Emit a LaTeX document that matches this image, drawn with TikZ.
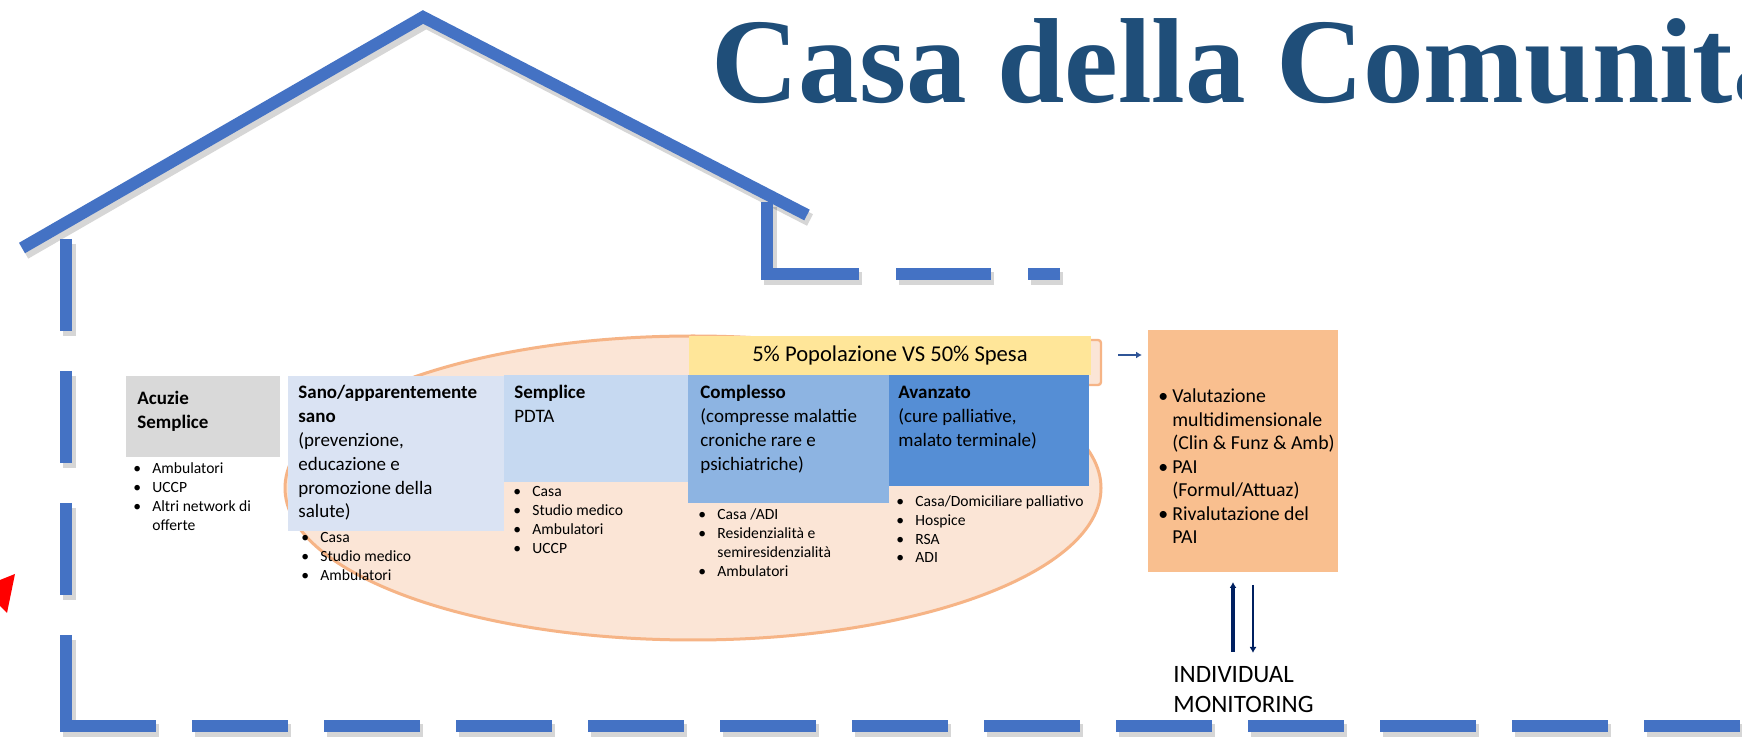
\documentclass[tikz,border=0pt]{standalone}
\usepackage{fontspec}
\setmainfont{Carlito}
\newfontfamily\titlefont{Liberation Serif}
\usetikzlibrary{arrows.meta}
\definecolor{housecol}{HTML}{4472C4}
\definecolor{titlecol}{HTML}{1F4E79}
\definecolor{ellipsefill}{HTML}{FBE5D6}
\definecolor{ellipseline}{HTML}{F6B486}
\definecolor{acuziecol}{HTML}{D9D9D9}
\definecolor{sanocol}{HTML}{DAE3F3}
\definecolor{semplicecol}{HTML}{C6D9F1}
\definecolor{complessocol}{HTML}{8DB4E2}
\definecolor{avanzatocol}{HTML}{558ED5}
\definecolor{spesacol}{HTML}{FFE699}
\definecolor{paicol}{HTML}{F9BF8F}
\definecolor{linkcol}{HTML}{2F5597}
\definecolor{navycol}{HTML}{002060}
\newcommand{\txtlines}[1]{\begin{tabular}[t]{@{}l@{}}#1\end{tabular}}
\newcommand{\bull}[1][9.5pt]{\makebox[#1][l]{\textbullet}}
\newcommand{\bindent}[1][9.5pt]{\hspace*{#1}}
\tikzset{
  house/.style={draw=housecol, line width=6pt},
  houseshadow/.style={draw=black, opacity=.16, line width=6.5pt, shift={(3,5)}},
  box/.style={anchor=north west, inner sep=0pt, outer sep=0pt},
  boxtext/.style={anchor=base west, inner sep=0pt, font=\fontsize{9.5}{11.9}\selectfont},
  listtext/.style={anchor=base west, inner sep=0pt, font=\fontsize{7.8}{9.5}\selectfont},
}
\begin{document}
\begin{tikzpicture}[x=0.5pt, y=-0.5pt, >={Latex[length=3pt,width=3.5pt]}]
  \fill[white] (0,0) rectangle (1742,742);
  \useasboundingbox (0,0) rectangle (1742,742);

  \foreach \s in {houseshadow, house}{
    \draw[\s, line join=miter] (22,248) -- (423,17) -- (807,215);
    \draw[\s, line join=miter] (767,202) -- (767,274) -- (859,274);
    \draw[\s] (896,274) -- (991,274) (1028,274) -- (1060,274);
    \draw[\s, dash pattern=on 46pt off 20pt] (66,239) -- (66,732);
    \draw[\s, dash pattern=on 48pt off 18pt] (60,726) -- (1742,726);
  }

  \draw[draw=ellipseline, fill=ellipsefill, line width=1.5pt] (693,488) ellipse [x radius=204pt, y radius=76pt];
  \node[box, draw=ellipseline, fill=ellipsefill, line width=1.2pt, rounded corners=1.5pt,
        minimum width=200.5pt, minimum height=22.5pt] (spesaback) at (700,340) {};
  \node[box, fill=spesacol, minimum width=201pt, minimum height=19.5pt,
        font=\fontsize{11.3}{13}\selectfont] (spesa) at (689,336) {5\% Popolazione VS 50\% Spesa};

  \node[box, fill=acuziecol, minimum width=77pt, minimum height=40.5pt] (acuzie) at (126,376) {};
  \node[box, fill=sanocol, minimum width=108pt, minimum height=77.5pt] (sano) at (288,376) {};
  \node[box, fill=semplicecol, minimum width=92.5pt, minimum height=53.5pt] (semplice) at (504,375) {};
  \node[box, fill=complessocol, minimum width=100.5pt, minimum height=64pt] (complesso) at (688,375) {};
  \node[box, fill=avanzatocol, minimum width=100pt, minimum height=55.5pt] (avanzato) at (889,375) {};
  \node[box, fill=paicol, minimum width=95pt, minimum height=121pt] (pai) at (1148,330) {};

  \node[boxtext, font=\fontsize{9.5}{12}\selectfont] (acuzietxt) at (137,405) {\txtlines{\textbf{Acuzie}\\\textbf{Semplice}}};
  \node[boxtext] (sanotxt) at (298,399) {\txtlines{\textbf{Sano/apparentemente}\\\textbf{sano}\\(prevenzione,\\educazione e\\promozione della\\salute)}};
  \node[boxtext] (semplicetxt) at (514,399) {\txtlines{\textbf{Semplice}\\PDTA}};
  \node[boxtext] (complessotxt) at (700,399) {\txtlines{\textbf{Complesso}\\(compresse malattie\\croniche rare e\\psichiatriche)}};
  \node[boxtext] (avanzatotxt) at (898,399) {\txtlines{\textbf{Avanzato}\\(cure palliative,\\malato terminale)}};
  \node[boxtext, font=\fontsize{9.9}{11.75}\selectfont] (paitxt) at (1158,403) {\txtlines{\bull[7pt]Valutazione\\\bindent[7pt]multidimensionale\\\bindent[7pt](Clin \& Funz \& Amb)\\\bull[7pt]PAI\\\bindent[7pt](Formul/Attuaz)\\\bull[7pt]Rivalutazione del\\\bindent[7pt]PAI}};

  \node[listtext] (acuzielist) at (133,474) {\txtlines{\bull Ambulatori\\\bull UCCP\\\bull Altri network di\\\bindent offerte}};
  \node[listtext] (sanolist) at (301,543) {\txtlines{\bull Casa\\\bull Studio medico\\\bull Ambulatori}};
  \node[listtext] (semplicelist) at (513,497) {\txtlines{\bull Casa\\\bull Studio medico\\\bull Ambulatori\\\bull UCCP}};
  \node[listtext] (complessolist) at (698,520) {\txtlines{\bull Casa /ADI\\\bull Residenzialità e\\\bindent semiresidenzialità\\\bull Ambulatori}};
  \node[listtext, font=\fontsize{7.8}{9.3}\selectfont] (avanzatolist) at (896,507) {\txtlines{\bull Casa/Domiciliare palliativo\\\bull Hospice\\\bull RSA\\\bull ADI}};

  \node[anchor=base west, inner sep=0pt, font=\fontsize{12.5}{15}\selectfont] (monitor) at (1173,683) {\txtlines{INDIVIDUAL\\MONITORING}};

  \coordinate (link) at (1118,355);
  \draw[->, linkcol, line width=1.2pt, shorten >=3pt] (link) -- (link -| pai.west);
  \coordinate (up) at (1233,652);
  \draw[->, navycol, line width=1.6pt, shorten >=5pt] (up) -- (up |- pai.south);
  \coordinate (down) at (1253,653);
  \draw[->, navycol, line width=1pt, shorten <=6.5pt] (down |- pai.south) -- (down);

  \node[anchor=base west, inner sep=0pt, text=titlecol,
        font=\titlefont\bfseries\fontsize{60.5}{70}\selectfont] (title) at (711,103) {Casa della Comunità};

  \fill[red] (0,580) -- (15,574) -- (7,613) -- (0,606) -- cycle;
\end{tikzpicture}
\end{document}
